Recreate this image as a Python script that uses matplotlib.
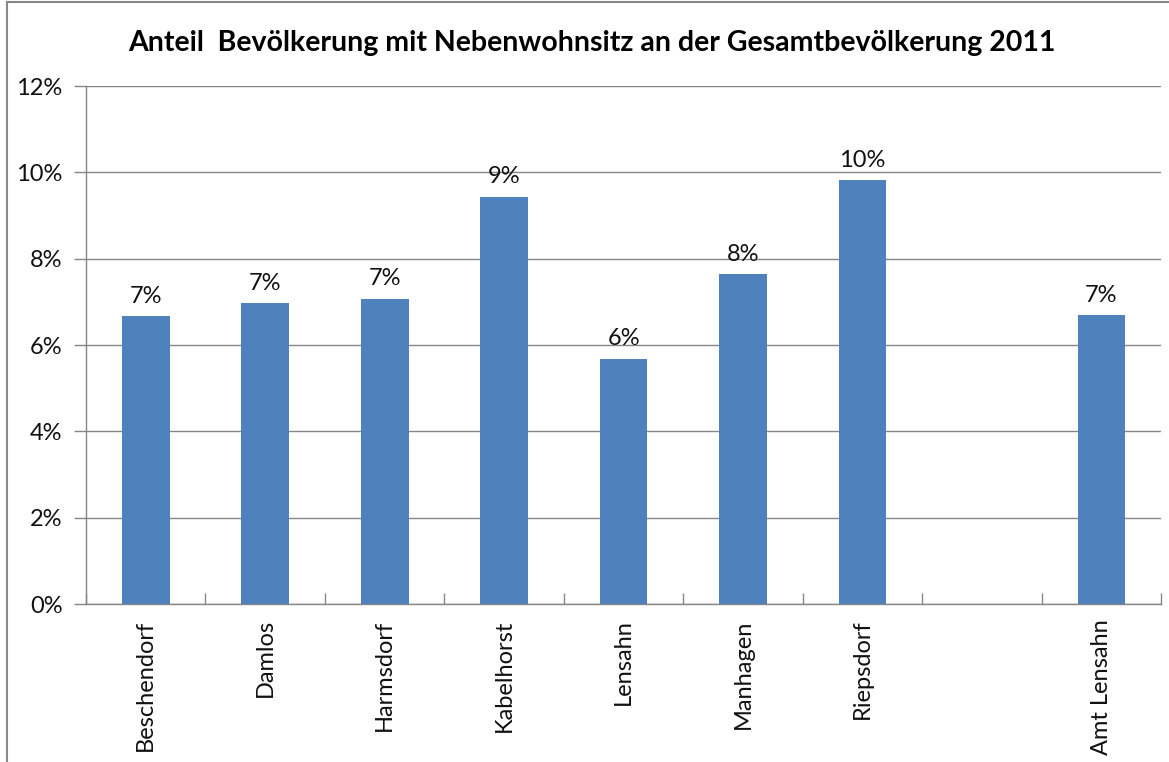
import numpy as np
import matplotlib
matplotlib.use("Agg")
import matplotlib.pyplot as plt
from matplotlib.ticker import FixedLocator, PercentFormatter

# data (share of population with secondary residence, in %)
orte = ["Beschendorf", "Damlos", "Harmsdorf", "Kabelhorst", "Lensahn",
        "Manhagen", "Riepsdorf", "", "Amt Lensahn"]
anteil = [6.67, 6.97, 7.07, 9.43, 5.68, 7.64, 9.82, np.nan, 6.69]
beschriftung = ["7%", "7%", "7%", "9%", "6%", "8%", "10%", "", "7%"]
y_ticks = [0, 2, 4, 6, 8, 10, 12]

plt.rcParams["font.family"] = ["Lato", "DejaVu Sans"]

BAR = "#4F81BD"
GRID = "#868686"

fig = plt.figure(figsize=(11.69, 7.62), dpi=100)
ax = fig.add_axes([0.0736, 0.2073, 0.9197, 0.6798])

x = np.arange(len(orte))
ax.bar(x, anteil, width=0.4, color=BAR, zorder=3)

for xi, v, lab in zip(x, anteil, beschriftung):
    if np.isnan(v):
        continue
    ax.text(xi, v + 0.22, lab, ha="center", va="bottom", fontsize=17, color="#111111")

ax.set_xlim(-0.5, len(orte) - 0.5)
ax.set_ylim(0, 12)
ax.set_yticks(y_ticks)
ax.yaxis.set_major_formatter(PercentFormatter(decimals=0))
ax.grid(True, axis="y", color=GRID, linewidth=1, zorder=0)

# category labels centred, tick marks at category borders
ax.set_xticks(x)
ax.set_xticklabels(orte, rotation=90, fontsize=17, color="#111111")
ax.tick_params(axis="x", which="major", length=0, pad=11)
ax.xaxis.set_minor_locator(FixedLocator(np.arange(-0.5, len(orte), 1.0)))
ax.tick_params(axis="x", which="minor", length=8, direction="in", color=GRID, width=1)
ax.tick_params(axis="y", length=9, color=GRID, width=1, labelsize=17,
               labelcolor="#111111", pad=8)

for side in ["top", "right"]:
    ax.spines[side].set_visible(False)
for side in ["left", "bottom"]:
    ax.spines[side].set_color(GRID)
    ax.spines[side].set_linewidth(1)

fig.text(0.506, 0.944, "Anteil  Bevölkerung mit Nebenwohnsitz an der Gesamtbevölkerung 2011",
         ha="center", va="center", fontsize=20.5, fontweight="bold")

# outer chart frame (left and top edges visible in reference)
fig.add_artist(plt.Line2D([0.006, 0.006], [0, 0.997], transform=fig.transFigure,
                          color="#888888", linewidth=1.5))
fig.add_artist(plt.Line2D([0.006, 1], [0.997, 0.997], transform=fig.transFigure,
                          color="#888888", linewidth=1.5))

fig.savefig("out.png", dpi=100)
